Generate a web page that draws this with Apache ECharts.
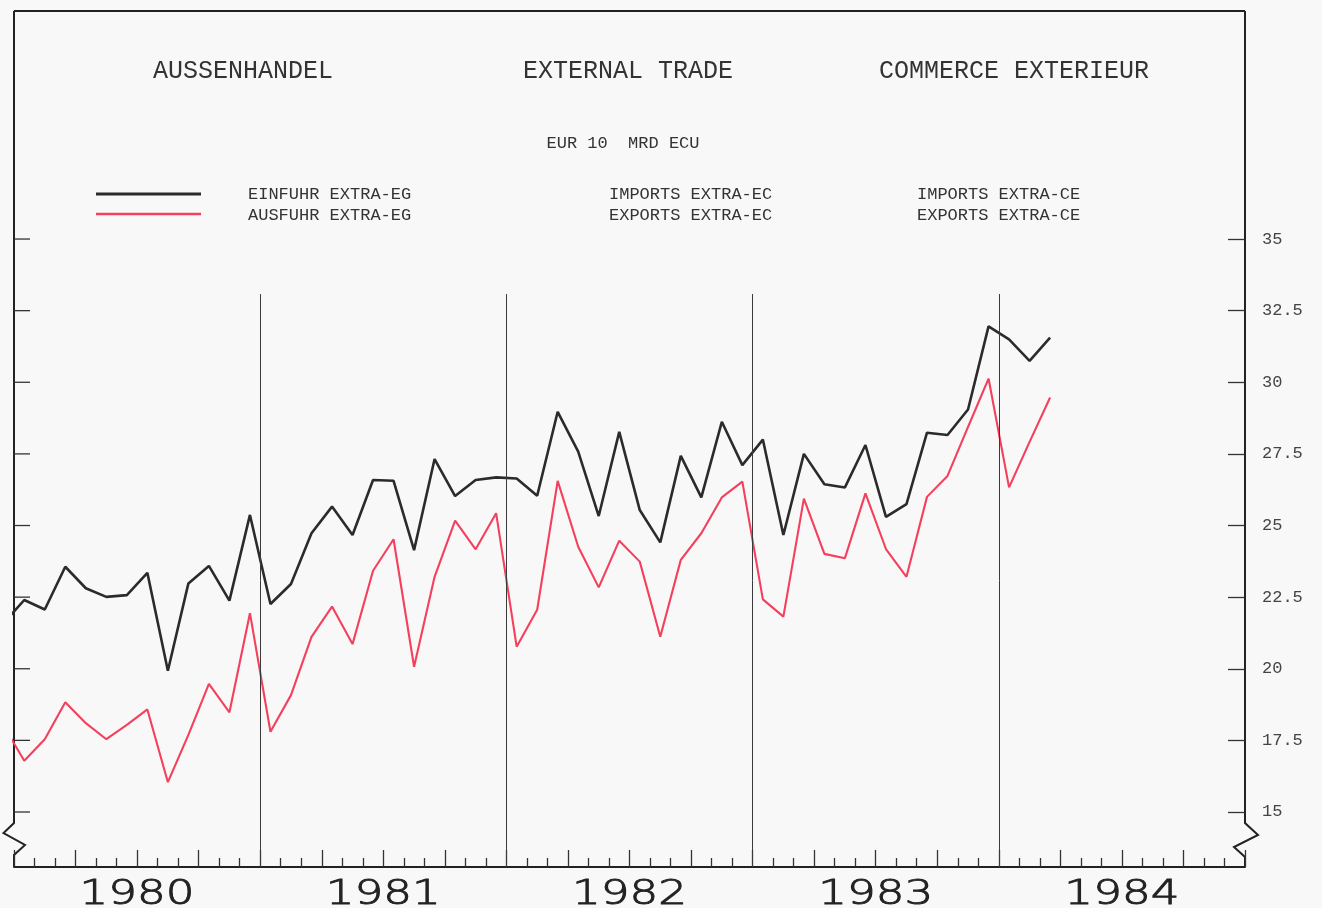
<!DOCTYPE html>
<html>
<head>
<meta charset="utf-8">
<script src="https://cdn.jsdelivr.net/npm/echarts@6/dist/echarts.min.js"></script>
<style>
html,body{margin:0;padding:0;background:#f8f8f8;}
#c{width:1322px;height:908px;}
</style>
</head>
<body>
<div id="c"></div>
<script>
// ---- data (monthly, EUR 10, MRD ECU) ----
const months = [
  '1979-12',
  '1980-01','1980-02','1980-03','1980-04','1980-05','1980-06','1980-07','1980-08','1980-09','1980-10','1980-11','1980-12',
  '1981-01','1981-02','1981-03','1981-04','1981-05','1981-06','1981-07','1981-08','1981-09','1981-10','1981-11','1981-12',
  '1982-01','1982-02','1982-03','1982-04','1982-05','1982-06','1982-07','1982-08','1982-09','1982-10','1982-11','1982-12',
  '1983-01','1983-02','1983-03','1983-04','1983-05','1983-06','1983-07','1983-08','1983-09','1983-10','1983-11','1983-12',
  '1984-01','1984-02','1984-03'
];
const importsExtra = [
  21.6,
  22.40, 22.07, 23.56, 22.81, 22.51, 22.57, 23.35, 19.93, 22.98, 23.59, 22.38, 25.37,
  22.26, 22.96, 24.73, 25.66, 24.67, 26.59, 26.56, 24.14, 27.32, 26.03, 26.59, 26.68,
  26.64, 26.04, 28.97, 27.58, 25.33, 28.27, 25.54, 24.41, 27.43, 25.98, 28.62, 27.11,
  28.00, 24.67, 27.50, 26.44, 26.33, 27.81, 25.30, 25.75, 28.24, 28.16, 29.05, 31.95,
  31.50, 30.75, 31.56
];
const exportsExtra = [
  18.0,
  16.79, 17.54, 18.83, 18.10, 17.54, 18.04, 18.58, 16.04, 17.69, 19.47, 18.48, 21.94,
  17.80, 19.08, 21.11, 22.17, 20.86, 23.42, 24.52, 20.07, 23.21, 25.17, 24.17, 25.43,
  20.77, 22.06, 26.56, 24.26, 22.84, 24.47, 23.74, 21.12, 23.80, 24.73, 25.98, 26.53,
  22.42, 21.82, 25.94, 24.01, 23.86, 26.12, 24.18, 23.21, 26.00, 26.73, 28.44, 30.13,
  26.33, 27.92, 29.47
];
const yearLabels = ['1980', '1981', '1982', '1983', '1984'];
const yTickValues = [15, 17.5, 20, 22.5, 25, 27.5, 30, 32.5, 35];
const yearBoundaries = ['1981-01', '1982-01', '1983-01', '1984-01'];
const titles = ['AUSSENHANDEL', 'EXTERNAL TRADE', 'COMMERCE EXTERIEUR'];
const unitLabel = 'EUR 10  MRD ECU';
const legendImports = ['EINFUHR EXTRA-EG', 'IMPORTS EXTRA-EC', 'IMPORTS EXTRA-CE'];
const legendExports = ['AUSFUHR EXTRA-EG', 'EXPORTS EXTRA-EC', 'EXPORTS EXTRA-CE'];

// ---- axis extents ----
const Y_MIN = 13.08, Y_MAX = 42.96;
const X_MIN = 0, X_MAX = 60;          // months from Jan 1980 to Jan 1985
const YEAR_LINE_TOP = 33.08;

function monthPos(m) {               // mid-month position
  const [y, mo] = m.split('-').map(Number);
  return (y - 1980) * 12 + (mo - 1) + 0.5;
}
function monthStart(m) {
  const [y, mo] = m.split('-').map(Number);
  return (y - 1980) * 12 + (mo - 1);
}

const impData = months.map((m, i) => [monthPos(m), importsExtra[i]]);
const expData = months.map((m, i) => [monthPos(m), exportsExtra[i]]);
const yearCenters = yearLabels.map((y) => monthStart(y + '-01') + 6);

const MONO = '"Liberation Mono", "DejaVu Sans Mono", monospace';
const INK = '#333333';

const chart = echarts.init(document.getElementById('c'), null, { renderer: 'canvas' });

const option = {
  backgroundColor: '#f8f8f8',
  animation: false,
  grid: { left: 14, right: 77, top: 11, bottom: 41, containLabel: false },
  xAxis: [{
    type: 'value',
    min: X_MIN, max: X_MAX, interval: 3,
    position: 'bottom',
    axisLine: { show: true, onZero: false, lineStyle: { color: '#222', width: 2 } },
    axisTick: { show: true, inside: true, length: 17, lineStyle: { color: INK, width: 1.3 } },
    minorTick: { show: true, splitNumber: 3, length: 9, lineStyle: { color: INK, width: 1.3 } },
    splitLine: { show: false },
    minorSplitLine: { show: false },
    axisLabel: { show: false }
  }],
  yAxis: [{
    type: 'value',
    position: 'right',
    min: Y_MIN, max: Y_MAX,
    axisLine: { show: false, onZero: false },
    axisTick: { show: true, inside: true, length: 17, customValues: yTickValues, lineStyle: { color: INK, width: 1.3 } },
    axisLabel: {
      customValues: yTickValues,
      formatter: (v) => String(v),
      fontFamily: MONO, fontSize: 17, color: '#444', margin: 17
    },
    splitLine: { show: false }
  }],
  series: [{
    name: legendImports[1],
    type: 'line',
    data: impData,
    showSymbol: false, symbol: 'none',
    clip: true,
    lineStyle: { color: '#2b2b2b', width: 2.6 },
    itemStyle: { color: '#2b2b2b' },
    z: 3,
    markLine: {
      silent: true,
      symbol: ['none', 'none'],
      label: { show: false },
      lineStyle: { color: '#3a3a3a', width: 1, type: 'solid' },
      data: yearBoundaries.map((b) => [
        { coord: [monthStart(b), YEAR_LINE_TOP] },
        { coord: [monthStart(b), Y_MIN] }
      ])
    }
  }, {
    name: legendExports[1],
    type: 'line',
    data: expData,
    showSymbol: false, symbol: 'none',
    clip: true,
    lineStyle: { color: '#f4405c', width: 2.1 },
    itemStyle: { color: '#f4405c' },
    z: 2
  }]
};
chart.setOption(option);

// ---- frame, left ticks, year labels, titles, legend ----
const p = (x, y) => chart.convertToPixel({ xAxisIndex: 0, yAxisIndex: 0 }, [x, y]);
const [xl, yb] = p(X_MIN, Y_MIN);
const [xr, yt] = p(X_MAX, Y_MAX);

function txt(text, x, y, size, align) {
  return {
    type: 'text', silent: true,
    style: {
      text, x, y,
      font: size + 'px ' + MONO,
      fill: INK,
      align: align, textAlign: align,
      verticalAlign: 'middle', textVerticalAlign: 'middle'
    }
  };
}
function line(points, color, width) {
  return {
    type: 'polyline', silent: true,
    shape: { points },
    style: { stroke: color, lineWidth: width, fill: null }
  };
}

const graphics = [
  line([[xl, yt], [xl, yb - 44], [xl - 10.5, yb - 34], [xl + 11, yb - 22], [xl, yb - 12], [xl, yb]], '#222', 2),
  line([[xr, yt], [xr, yb - 44], [xr + 13, yb - 32], [xr - 11, yb - 20], [xr, yb - 10], [xr, yb]], '#222', 2),
  line([[xl, yt], [xr, yt]], '#222', 2),
  txt(titles[0], 243, 71, 25, 'center'),
  txt(titles[1], 628, 71, 25, 'center'),
  txt(titles[2], 1014, 71, 25, 'center'),
  txt(unitLabel, 623, 143, 17, 'center'),
  line([[96, 194], [201, 194]], '#2b2b2b', 3),
  line([[96, 214], [201, 214]], '#f4405c', 2.5),
  txt(legendImports[0], 248, 194, 17, 'left'),
  txt(legendExports[0], 248, 215, 17, 'left'),
  txt(legendImports[1], 609, 194, 17, 'left'),
  txt(legendExports[1], 609, 215, 17, 'left'),
  txt(legendImports[2], 917, 194, 17, 'left'),
  txt(legendExports[2], 917, 215, 17, 'left')
];
// inward ticks on the left frame
yTickValues.forEach((v) => {
  const py = p(X_MIN, v)[1];
  graphics.push(line([[xl, py], [xl + 16, py]], INK, 1.3));
});
// year labels centred under each year, stretched like the plotter lettering
yearLabels.forEach((y, i) => {
  const px = p(yearCenters[i], Y_MIN)[0];
  graphics.push({
    type: 'text', silent: true,
    x: px, y: yb + 28, scaleX: 1.33, scaleY: 1,
    style: {
      text: y, x: 0, y: 0,
      font: '200 34px "DejaVu Sans", sans-serif',
      fill: '#222',
      stroke: '#222', lineWidth: 0.9,
      align: 'center', textAlign: 'center',
      verticalAlign: 'middle', textVerticalAlign: 'middle'
    }
  });
});
chart.setOption({ graphic: graphics });
</script>
</body>
</html>
